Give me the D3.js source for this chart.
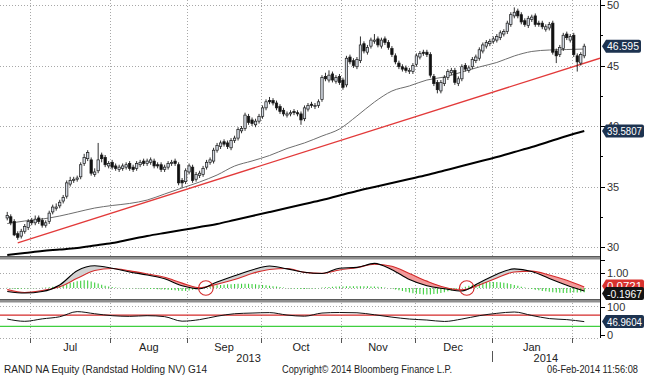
<!DOCTYPE html>
<html><head><meta charset="utf-8">
<script src="https://cdn.jsdelivr.net/npm/d3@7"></script>
<style>
body{margin:0;background:#fff}
svg{display:block}
text{font-family:"Liberation Sans",Arial,sans-serif}
</style>
</head><body>
<svg id="c" width="645" height="376"></svg>
<script>
// ---------- DATA ----------
const firstDay = "2013-06-20";
const lastDay = "2014-02-06";

const opens = [32.4,32.5,32.1,31.1,30.9,31.3,31.6,32.2,32.0,32.4,
32.2,31.8,32.1,32.9,33.2,33.4,33.8,34.2,35.2,35.5,
35.6,35.8,36.9,37.3,37.2,36.0,36.3,37.6,37.4,36.7,
37.0,36.7,36.4,36.5,36.6,36.9,36.6,36.5,36.8,37.1,
36.9,37.0,37.1,36.8,36.8,36.4,36.6,36.9,37.1,36.8,
35.5,35.4,36.2,36.6,35.6,35.9,36.0,36.6,37.0,37.1,
38.0,38.3,38.7,38.6,38.2,38.8,39.0,39.6,39.8,40.8,
40.5,40.1,40.4,40.8,41.5,42.1,42.1,41.9,41.6,41.3,
40.9,41.0,41.2,41.1,41.0,40.6,41.4,41.8,41.6,41.7,
42.2,44.1,43.8,44.3,43.7,44.1,43.8,43.4,45.7,45.4,
44.9,45.4,46.8,46.1,46.6,47.0,47.2,46.6,47.2,46.9,
46.4,45.8,45.2,44.9,44.8,44.5,44.5,45.1,45.7,46.1,
46.1,45.9,44.1,43.6,42.9,43.5,44.0,44.4,44.6,43.5,
43.9,45.0,44.6,44.9,45.4,45.6,46.2,46.6,46.8,47.0,
47.1,47.3,47.6,47.8,48.4,49.1,49.5,49.2,48.7,48.3,
48.8,49.1,48.5,48.5,48.0,48.1,48.5,46.2,45.9,46.4,
47.6,47.1,47.5,45.8,45.2,45.8];
const highs = [32.9,32.7,32.3,31.3,31.5,31.9,32.3,32.4,32.6,32.6,
32.4,32.2,33.0,33.5,33.6,33.9,34.3,35.5,35.8,35.8,
35.9,37.0,37.7,38.0,37.4,36.5,38.6,37.8,37.6,37.1,
37.2,36.9,36.8,36.9,37.0,37.1,36.8,37.1,37.2,37.3,
37.3,37.4,37.3,37.0,37.0,36.8,37.1,37.2,37.3,37.0,
35.7,36.5,36.9,36.8,36.2,36.3,36.7,37.2,37.4,38.2,
38.6,38.8,38.9,38.8,39.0,39.2,39.9,40.0,41.1,41.0,
40.7,40.6,41.0,41.7,42.2,42.4,42.3,42.1,41.8,41.5,
41.2,41.3,41.4,41.3,41.2,41.7,41.9,42.0,41.9,42.2,
44.2,44.4,44.6,44.5,44.2,44.3,44.0,45.8,45.9,45.6,
45.7,47.4,47.0,46.7,47.3,47.6,47.4,47.3,47.4,47.1,
46.6,46.0,45.4,45.1,45.0,44.8,45.2,46.0,46.2,46.3,
46.3,46.1,44.3,43.8,43.8,44.2,44.7,44.8,44.8,44.1,
45.1,45.2,45.0,45.7,45.9,46.5,46.9,47.1,47.2,47.4,
47.6,47.9,48.0,48.7,49.4,49.8,49.7,49.4,48.9,49.1,
49.2,49.3,48.7,48.7,48.4,48.6,48.7,46.4,46.7,47.7,
47.8,47.6,47.7,46.0,46.1,46.8];
const lows = [32.2,31.8,30.9,30.6,30.7,31.1,31.4,31.8,31.8,31.9,
31.6,31.6,31.9,32.7,33.0,33.2,33.6,34.0,35.0,35.3,
35.4,35.6,36.7,37.1,35.9,35.8,36.1,37.0,36.6,36.5,
36.4,36.3,36.2,36.3,36.4,36.3,36.2,36.3,36.6,36.7,
36.7,36.8,36.5,36.5,36.2,36.2,36.4,36.7,36.7,35.1,
34.9,35.2,36.0,35.3,35.4,35.7,35.8,36.4,36.8,36.9,
37.8,38.1,38.3,38.1,38.0,38.6,38.8,39.4,39.6,40.1,
40.0,39.9,40.2,40.6,41.3,41.8,41.7,41.3,41.0,40.8,
40.7,40.8,40.9,40.8,40.1,40.4,41.2,41.5,41.4,41.5,
42.0,43.7,43.6,43.6,43.5,43.4,43.0,43.2,45.1,44.8,
44.7,45.2,46.0,45.9,46.4,46.8,46.5,46.4,46.7,46.3,
45.7,45.1,44.7,44.5,44.4,44.3,44.3,44.9,45.5,45.8,
45.7,44.0,43.3,42.7,42.7,43.3,43.8,44.2,43.4,43.3,
43.7,44.5,44.4,44.7,45.2,45.4,46.0,46.4,46.6,46.8,
46.9,47.1,47.4,47.6,48.2,48.9,48.9,48.4,48.2,48.1,
48.6,48.2,48.2,48.0,47.8,47.9,45.9,45.2,45.7,46.2,
47.1,46.9,45.7,44.5,45.0,45.6];
const closes = [32.6,32.0,31.0,30.8,31.3,31.7,32.1,32.0,32.3,32.1,
31.8,32.0,32.8,33.3,33.3,33.7,34.1,35.3,35.5,35.6,
35.7,36.8,37.4,37.8,36.1,36.2,37.2,37.3,36.8,36.9,
36.6,36.5,36.6,36.7,36.8,36.5,36.4,36.9,37.0,36.9,
37.1,37.2,36.7,36.7,36.4,36.6,36.9,37.0,36.9,35.3,
35.3,36.3,36.7,35.5,36.0,36.1,36.5,37.0,37.2,38.0,
38.4,38.6,38.5,38.3,38.8,39.0,39.7,39.8,40.9,40.3,
40.2,40.4,40.8,41.5,42.0,42.0,41.9,41.5,41.2,41.0,
41.0,41.1,41.1,41.0,40.5,41.5,41.7,41.7,41.7,42.0,
44.0,43.9,44.2,43.8,44.0,43.6,43.2,45.6,45.3,45.0,
45.5,46.7,46.2,46.5,47.1,47.1,46.7,47.1,46.9,46.5,
45.9,45.3,44.9,44.7,44.6,44.6,45.0,45.8,46.0,46.0,
45.9,44.2,43.5,43.0,43.6,44.0,44.5,44.6,43.6,43.9,
44.9,44.7,44.8,45.5,45.7,46.3,46.7,46.9,47.0,47.2,
47.4,47.7,47.8,48.5,49.2,49.4,49.1,48.6,48.4,48.9,
49.0,48.4,48.4,48.2,48.2,48.4,46.1,45.8,46.5,47.5,
47.3,47.4,45.9,45.3,45.9,46.595];

// slow series read every 5 sessions
const sampleDays = [0,5,10,15,20,25,30,35,40,45,50,55,60,65,70,75,80,85,90,95,100,105,110,115,120,125,130,135,140,145,150,155,160,165];
const ma50 = [31.94,32.15,32.31,32.56,32.89,33.22,33.43,33.60,33.88,34.38,34.88,35.37,35.95,36.69,37.11,37.56,38.14,38.60,39.17,39.75,40.83,41.98,42.89,43.31,43.80,44.05,44.46,44.88,45.25,45.79,46.16,46.28,46.32,46.36];
const ma200 = [29.34,29.50,29.67,29.79,29.92,30.12,30.33,30.62,30.91,31.16,31.40,31.65,31.90,32.23,32.56,32.89,33.22,33.55,33.88,34.26,34.63,34.96,35.29,35.62,35.95,36.32,36.69,37.07,37.44,37.85,38.26,38.72,39.17,39.5807];
const macd = [-0.23,-0.33,-0.23,0.20,1.13,1.45,1.29,1.05,0.85,0.60,0.15,-0.05,0.39,0.80,1.18,1.44,1.25,1.03,0.95,1.29,1.35,1.61,1.20,0.55,0.15,-0.05,-0.20,0.35,0.90,1.25,1.08,0.62,0.18,-0.1967];
const signal = [-0.10,-0.29,-0.16,0.08,0.63,1.14,1.27,1.12,0.92,0.70,0.32,0.02,0.25,0.55,0.95,1.21,1.27,1.02,0.96,1.18,1.33,1.55,1.42,0.95,0.45,0.05,-0.12,0.20,0.65,1.05,1.10,0.85,0.50,0.0721];
const rsi = [56,48,56.6,64,82,74.6,67.8,65.4,67.8,64.4,48.5,54,66,74.6,77,78.6,70,66,77,79,78,71,62.7,56,52.5,47.5,56,67.8,76,80.7,68.5,57.6,54,46.9604];

const histogram = [0.02,-0.03,-0.05,-0.06,-0.05,-0.04,-0.03,-0.02,-0.01,0.0,
0.01,0.03,0.05,0.08,0.10,0.13,0.17,0.24,0.32,0.38,
0.44,0.48,0.50,0.49,0.42,0.36,0.30,0.22,0.15,0.10,
0.06,0.03,0.01,-0.01,-0.02,-0.03,-0.02,-0.03,-0.04,-0.04,
-0.05,-0.06,-0.07,-0.08,-0.09,-0.10,-0.11,-0.13,-0.15,-0.18,
-0.20,-0.19,-0.16,-0.12,-0.07,-0.02,0.03,0.08,0.12,0.16,
0.18,0.20,0.22,0.24,0.25,0.26,0.27,0.28,0.28,0.27,
0.26,0.24,0.22,0.20,0.18,0.15,0.12,0.09,0.06,0.03,
-0.01,-0.03,-0.04,-0.05,-0.06,-0.06,-0.05,-0.04,-0.03,-0.01,
0.03,0.05,0.07,0.08,0.09,0.10,0.10,0.11,0.12,0.12,
0.12,0.12,0.11,0.11,0.10,0.09,0.08,0.06,0.03,0.0,
-0.04,-0.09,-0.14,-0.20,-0.25,-0.30,-0.34,-0.38,-0.40,-0.42,
-0.43,-0.42,-0.40,-0.37,-0.33,-0.28,-0.22,-0.16,-0.10,-0.04,
0.02,0.08,0.14,0.20,0.26,0.30,0.34,0.37,0.39,0.40,
0.40,0.38,0.35,0.31,0.26,0.20,0.14,0.08,0.03,-0.02,
-0.07,-0.11,-0.15,-0.19,-0.22,-0.25,-0.28,-0.30,-0.31,-0.32,
-0.32,-0.31,-0.30,-0.29,-0.28,-0.27];

const trendLine = [[3,30.35],[169.5,45.6]];
const crossovers = [56.8,131.4];
const priceTicks = [30,35,40,45,50];
const macdTicks = [1.00];
const rsiTicks = [0,100];
const rsiBands = [70,30];
const lastLabels = {price:"46.595", ma200:"39.5807", signal:"0.0721", macd:"-0.1967", rsi:"46.9604"};
const footLeft = "RAND NA Equity (Randstad Holding NV) G14";
const footMid = "Copyright\u00A9 2014 Bloomberg Finance L.P.";
const footRight = "06-Feb-2014 11:56:08";

// ---------- TRADING DAYS (categories) ----------
const days = [];
{
  const pd = d3.timeParse("%Y-%m-%d");
  const end = pd(lastDay);
  for (let d = pd(firstDay); d <= end; d = d3.timeDay.offset(d,1)) {
    const w = d.getDay(); if (w!==0 && w!==6) days.push(d);
  }
}
const n = days.length;

// ---------- SCALES ----------
const svg = d3.select("#c");
const AX = 600;
const x = d3.scaleLinear().domain([-0.5, n-0.5]).range([5.5, 586]);
const yP = d3.scaleLinear().domain([30,50]).range([247,5]);
const yM = d3.scaleLinear().domain([0,1]).range([288,272.7]);
const yR = d3.scaleLinear().domain([0,100]).range([335,306.5]);

const panels = [{y0:0,y1:256},{y0:259.5,y1:299},{y0:302.5,y1:338}];
const defs = svg.append("defs");
panels.forEach((p,i)=>{
  defs.append("clipPath").attr("id","clip"+i).append("rect")
    .attr("x",0).attr("y",p.y0).attr("width",AX).attr("height",p.y1-p.y0);
});

const gridCol = "#a8a8a8";
const grid = svg.append("g").attr("stroke",gridCol).attr("stroke-dasharray","1,2").attr("stroke-width",1);

const monthStarts = [];
for (let i=1;i<n;i++) if (days[i].getMonth()!==days[i-1].getMonth()) monthStarts.push(i);
monthStarts.forEach(i=>{
  grid.append("line").attr("x1",Math.round(x(i-0.5))+0.5).attr("x2",Math.round(x(i-0.5))+0.5)
    .attr("y1",0).attr("y2",338);
});
priceTicks.forEach(v=>grid.append("line").attr("x1",0).attr("x2",AX).attr("y1",Math.round(yP(v))+0.5).attr("y2",Math.round(yP(v))+0.5));
[0,1].forEach(v=>grid.append("line").attr("x1",0).attr("x2",AX).attr("y1",Math.round(yM(v))+0.5).attr("y2",Math.round(yM(v))+0.5));
[306.5,338.5].forEach(v=>grid.append("line").attr("x1",0).attr("x2",AX).attr("y1",v).attr("y2",v));

// ---------- MAIN PANEL ----------
const gMain = svg.append("g").attr("clip-path","url(#clip0)");
const slow = sampleDays.map((d,k)=>({d, ma50:ma50[k], ma200:ma200[k], macd:macd[k], sig:signal[k], rsi:rsi[k]}));

gMain.append("path").datum(slow)
  .attr("d", d3.line().x(p=>x(p.d)).y(p=>yP(p.ma200)).curve(d3.curveMonotoneX))
  .attr("fill","none").attr("stroke","#000").attr("stroke-width",2);
gMain.append("path").datum(slow)
  .attr("d", d3.line().x(p=>x(p.d)).y(p=>yP(p.ma50)).curve(d3.curveMonotoneX))
  .attr("fill","none").attr("stroke","#6e6e6e").attr("stroke-width",1);
gMain.append("path").datum(trendLine)
  .attr("d", d3.line().x(p=>x(p[0])).y(p=>yP(p[1])))
  .attr("fill","none").attr("stroke","#e23a3a").attr("stroke-width",1.3);

const candles = d3.range(n).map(i=>({i,o:opens[i],h:highs[i],l:lows[i],c:closes[i]}));
const bw = 2.4;
const cg = gMain.append("g");
cg.selectAll("line").data(candles).join("line")
  .attr("x1",d=>x(d.i)).attr("x2",d=>x(d.i))
  .attr("y1",d=>yP(d.h)).attr("y2",d=>yP(d.l))
  .attr("stroke","#1a1a1a").attr("stroke-width",0.9);
cg.selectAll("rect").data(candles).join("rect")
  .attr("x",d=>x(d.i)-bw/2).attr("width",bw)
  .attr("y",d=>yP(Math.max(d.o,d.c)))
  .attr("height",d=>Math.max(0.9,Math.abs(yP(d.o)-yP(d.c))))
  .attr("fill",d=>d.c>=d.o?"#d3d9e2":"#111")
  .attr("stroke","#1a1a1a").attr("stroke-width",0.7);

// ---------- MACD PANEL ----------
const gM = svg.append("g").attr("clip-path","url(#clip1)");
const cur = d3.curveMonotoneX;
defs.append("clipPath").attr("id","belowMacd").append("path").datum(slow)
  .attr("d", d3.area().x(p=>x(p.d)).y0(300).y1(p=>yM(p.macd)).curve(cur));
defs.append("clipPath").attr("id","aboveMacd").append("path").datum(slow)
  .attr("d", d3.area().x(p=>x(p.d)).y0(255).y1(p=>yM(p.macd)).curve(cur));
gM.append("path").datum(slow).attr("clip-path","url(#belowMacd)")
  .attr("d", d3.area().x(p=>x(p.d)).y0(255).y1(p=>yM(p.sig)).curve(cur))
  .attr("fill","#d2d2d2");
gM.append("path").datum(slow).attr("clip-path","url(#aboveMacd)")
  .attr("d", d3.area().x(p=>x(p.d)).y0(p=>yM(p.sig)).y1(300).curve(cur))
  .attr("fill","#f29a9a");
gM.append("g").selectAll("line").data(histogram.map((v,i)=>({i,v}))).join("line")
  .attr("x1",d=>x(d.i)).attr("x2",d=>x(d.i))
  .attr("y1",yM(0)).attr("y2",d=>yM(d.v))
  .attr("stroke","#3fcf3f").attr("stroke-width",1.1);
gM.append("path").datum(slow)
  .attr("d", d3.line().x(p=>x(p.d)).y(p=>yM(p.sig)).curve(cur))
  .attr("fill","none").attr("stroke","#d42a2a").attr("stroke-width",1.1);
gM.append("path").datum(slow)
  .attr("d", d3.line().x(p=>x(p.d)).y(p=>yM(p.macd)).curve(cur))
  .attr("fill","none").attr("stroke","#000").attr("stroke-width",1.1);
crossovers.forEach(c=>{
  gM.append("circle").attr("cx",x(c)).attr("cy",yM(0)).attr("r",7.3)
    .attr("fill","none").attr("stroke","#d42a2a").attr("stroke-width",1.1);
});

// ---------- RSI PANEL ----------
const gR = svg.append("g").attr("clip-path","url(#clip2)");
gR.append("line").attr("x1",0).attr("x2",AX).attr("y1",yR(rsiBands[0])).attr("y2",yR(rsiBands[0])).attr("stroke","#d42a2a").attr("stroke-width",1.2);
gR.append("line").attr("x1",0).attr("x2",AX).attr("y1",yR(rsiBands[1])).attr("y2",yR(rsiBands[1])).attr("stroke","#3fcf3f").attr("stroke-width",1.2);
gR.append("path").datum(slow)
  .attr("d", d3.line().x(p=>x(p.d)).y(p=>yR(p.rsi)).curve(d3.curveMonotoneX))
  .attr("fill","none").attr("stroke","#111").attr("stroke-width",1);

// ---------- SEPARATORS & AXIS ----------
[256,299].forEach(y=>{
  svg.append("rect").attr("x",0).attr("y",y).attr("width",AX+1).attr("height",3.5).attr("fill","#8f8f8f");
  svg.append("line").attr("x1",0).attr("x2",AX+1).attr("y1",y+0.5).attr("y2",y+0.5).attr("stroke","#5a5a5a");
});
svg.append("line").attr("x1",AX+0.5).attr("x2",AX+0.5).attr("y1",0).attr("y2",338).attr("stroke","#000").attr("stroke-width",1);

const axG = svg.append("g").attr("font-size",11).attr("fill","#333");
function rTick(y,len){ svg.append("line").attr("x1",AX).attr("x2",AX+len).attr("y1",Math.round(y)+0.5).attr("y2",Math.round(y)+0.5).attr("stroke","#000"); }
d3.range(30,50.01,2.5).forEach(v=>rTick(yP(v), v%5===0?5:3));
priceTicks.forEach(v=>axG.append("text").attr("x",AX+7).attr("y",yP(v)+4).text(v));
macdTicks.forEach(v=>{rTick(yM(v),5); axG.append("text").attr("x",AX+7).attr("y",yM(v)+4).text(d3.format(".2f")(v));});
rTick(yM(1.8),5);
rsiTicks.forEach(v=>{rTick(yR(v),5); axG.append("text").attr("x",AX+7).attr("y",yR(v)+4).text(v);});

function valueBox(y, txt, fill, w){
  const h=13, x0=AX+2;
  svg.append("path").attr("d",`M${x0},${y} L${x0+4},${y-h/2} L${x0+w-2},${y-h/2} Q${x0+w},${y-h/2} ${x0+w},${y-h/2+2} L${x0+w},${y+h/2-2} Q${x0+w},${y+h/2} ${x0+w-2},${y+h/2} L${x0+4},${y+h/2} Z`).attr("fill",fill);
  svg.append("text").attr("x",x0+5).attr("y",y+4).attr("font-size",10).attr("fill","#fff")
    .attr("textLength",w-7).attr("lengthAdjust","spacingAndGlyphs").text(txt);
}
valueBox(yP(+lastLabels.price), lastLabels.price, "#1d3350", 39);
valueBox(yP(+lastLabels.ma200), lastLabels.ma200, "#1d3350", 42);
valueBox(yM(+lastLabels.signal)-1, lastLabels.signal, "#d8322e", 42);
valueBox(yM(+lastLabels.macd)+2.5, lastLabels.macd, "#141414", 42);
valueBox(yR(+lastLabels.rsi), lastLabels.rsi, "#1d3350", 42);

// ---------- X AXIS ----------
const xg = svg.append("g").attr("font-size",11).attr("fill","#222").attr("text-anchor","middle");
monthStarts.forEach(i=>{
  const xx = Math.round(x(i-0.5))+0.5;
  svg.append("line").attr("x1",xx).attr("x2",xx).attr("y1",338).attr("y2",343).attr("stroke","#555");
});
const fmt = d3.timeFormat("%b");
const bounds = monthStarts.map(i=>x(i-0.5));
for (let k=0;k<bounds.length-1;k++){
  xg.append("text").attr("x",(bounds[k]+bounds[k+1])/2).attr("y",351).text(fmt(days[monthStarts[k]]));
}
const yearIdx = monthStarts.find(i=>days[i].getFullYear()===2014);
const yb = x(yearIdx-0.5);
xg.append("text").attr("x",(x(-0.5)+yb)/2).attr("y",362).text("2013");
xg.append("text").attr("x",(yb+AX)/2).attr("y",362).text("2014");
svg.append("line").attr("x1",Math.round(yb)+0.5).attr("x2",Math.round(yb)+0.5).attr("y1",351).attr("y2",362).attr("stroke","#555");

// ---------- FOOTER ----------
const fg = svg.append("g").attr("fill","#222");
fg.append("text").attr("x",4).attr("y",373).attr("font-size",10.5).attr("textLength",203).attr("lengthAdjust","spacingAndGlyphs").text(footLeft);
fg.append("text").attr("x",282).attr("y",373).attr("font-size",10).attr("textLength",170).attr("lengthAdjust","spacingAndGlyphs").text(footMid);
fg.append("text").attr("x",547).attr("y",373).attr("font-size",10).attr("textLength",91).attr("lengthAdjust","spacingAndGlyphs").text(footRight);
</script>
</body></html>
